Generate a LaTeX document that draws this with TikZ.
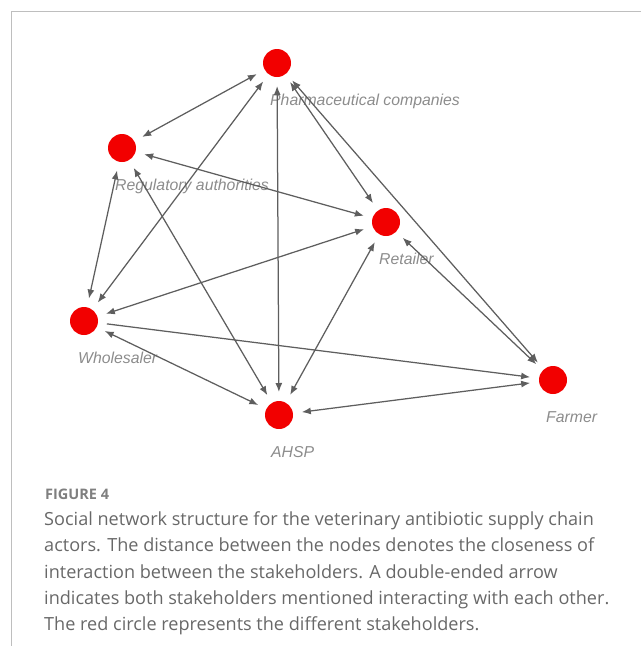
\documentclass[tikz,border=0pt]{standalone}
\usepackage{fontspec}
\setmainfont{Open Sans}
\newfontfamily\lblfont{Liberation Sans}
\usetikzlibrary{arrows.meta}
\definecolor{actorred}{HTML}{F20000}
\definecolor{linkgray}{HTML}{5E5E5E}
\definecolor{lblgray}{HTML}{8C8C8C}
\definecolor{capgray}{HTML}{686868}
\definecolor{framegray}{HTML}{BEBEBE}
\tikzset{
  actor/.style={circle,fill=actorred,minimum size=28pt,inner sep=0pt,outer sep=9pt},
  lbl/.style={anchor=base west,inner sep=0pt,text=lblgray,font=\lblfont\itshape\fontsize{15.8}{18}\selectfont},
  link/.style={draw=linkgray,line width=1.25pt,{Latex[length=9pt,width=7pt]}-{Latex[length=9pt,width=7pt]}},
  oneway/.style={draw=linkgray,line width=1.25pt,-{Latex[length=9pt,width=7pt]}},
  captxt/.style={anchor=base west,inner sep=0pt,text=capgray,font=\fontsize{18.1}{22}\selectfont}
}
\begin{document}
\begin{tikzpicture}[x=1pt,y=-1pt]
\useasboundingbox (0,0) rectangle (641,646);
\draw[framegray,line width=1pt] (641,11) -- (11,11) -- (11,646);

\node[actor] (pharma) at (277,63) {};
\node[actor] (reg) at (122,148) {};
\node[actor] (retail) at (386,222) {};
\node[actor] (whole) at (84,321) {};
\node[actor] (ahsp) at (279,415) {};
\node[actor] (farmer) at (553,380) {};

\node[lbl] (pharmaL) at ([shift={(-7,42)}]pharma.center) {Pharmaceutical companies};
\node[lbl] (regL) at ([shift={(-7,42)}]reg.center) {Regulatory authorities};
\node[lbl] (retailL) at ([shift={(-7,42)}]retail.center) {Retailer};
\node[lbl] (wholeL) at ([shift={(-6,42)}]whole.center) {Wholesaler};
\node[lbl] (ahspL) at ([shift={(-8,42)}]ahsp.center) {AHSP};
\node[lbl] (farmerL) at ([shift={(-7,42)}]farmer.center) {Farmer};

\draw[link] (pharma) -- (reg);
\draw[link] (pharma) -- (whole);
\draw[link] (pharma) -- (ahsp);
\draw[link] (pharma) -- (retail);
\draw[link] (pharma) -- (farmer);
\draw[link] (reg) -- (retail);
\draw[link] (reg) -- (whole);
\draw[link] (reg) -- (ahsp);
\draw[link] (retail) -- (whole);
\draw[link] (retail) -- (ahsp);
\draw[link] (retail) -- (farmer);
\draw[oneway] (whole) -- (farmer);
\draw[link] (whole) -- (ahsp);
\draw[link] (ahsp) -- (farmer);

\node[captxt,text=capgray!85,font=\bfseries\fontsize{14.5}{16}\selectfont] (figno) at (45,499) {FIGURE 4};
\node[captxt] (cap1) at (44,525) {Social network structure for the veterinary antibiotic supply chain};
\node[captxt] (cap2) at (44,551.5) {actors. The distance between the nodes denotes the closeness of};
\node[captxt] (cap3) at (44,578) {interaction between the stakeholders. A double-ended arrow};
\node[captxt] (cap4) at (44,604) {indicates both stakeholders mentioned interacting with each other.};
\node[captxt] (cap5) at (44,630.5) {The red circle represents the different stakeholders.};
\end{tikzpicture}
\end{document}
